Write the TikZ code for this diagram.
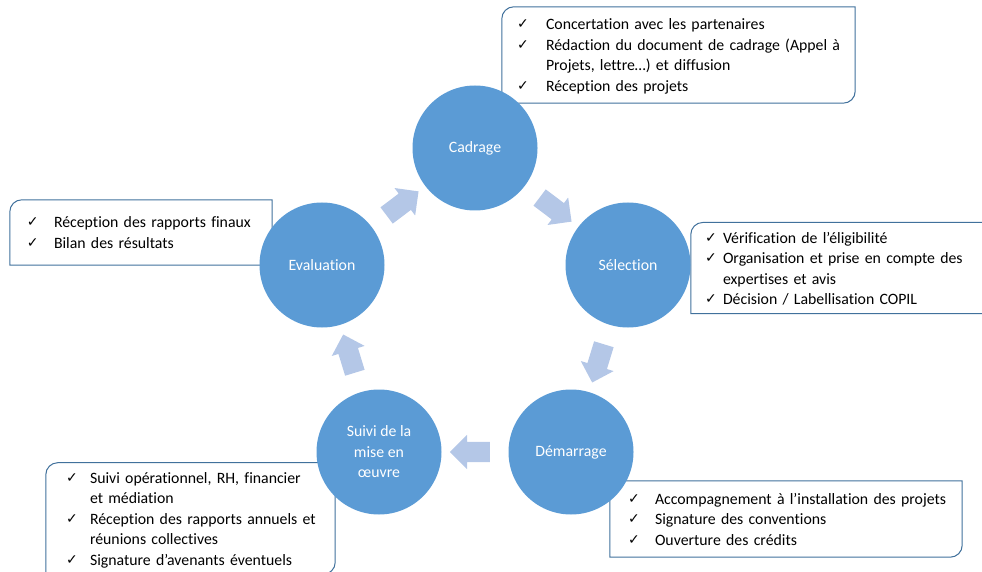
\documentclass[tikz,border=0pt]{standalone}
\usepackage{fontspec}
\setmainfont{Carlito}[Ligatures=NoCommon]
\newfontfamily\chkfont{DejaVu Sans}
\usetikzlibrary{shapes.arrows,calc}

\definecolor{phaseblue}{HTML}{5B9BD5}
\definecolor{flowblue}{HTML}{B4C7E7}
\definecolor{edgeblue}{HTML}{41719C}

% one ticked line of a list box
\newlength{\chkw}
\newcommand{\chk}[1]{\par\hangindent=\chkw\hangafter=1\noindent\makebox[\chkw][l]{\raisebox{1pt}{\chkfont\fontsize{14}{14}\selectfont ✓}}#1\par}

\tikzset{
  phase/.style={circle, fill=phaseblue, text=white, minimum size=125pt, inner sep=0pt, align=center},
  listbox/.style={fill=white, inner sep=0pt, align=left},
  boxline/.style={draw=edgeblue, line width=1pt},
  flow/.style={single arrow, fill=flowblue, minimum height=40pt, inner xsep=0pt, inner ysep=10pt, single arrow head extend=7pt}
}

\begin{document}
\begin{tikzpicture}[x=1pt,y=1pt,font=\fontsize{15.8}{20.5}\selectfont]
  \useasboundingbox (0,0) rectangle (982,571);

  % list boxes
  \node[listbox, minimum height=96pt, text width=353pt] (cadlist) at (678.5,516) {\setlength{\leftskip}{15pt}\setlength{\chkw}{29pt}%
    \chk{Concertation avec les partenaires}
    \chk{Rédaction du document de cadrage (Appel à\newline Projets, lettre…) et diffusion}
    \chk{Réception des projets}\kern7pt};
  \node[listbox, minimum height=65pt, text width=262pt] (evalist) at (141,338.5) {\setlength{\leftskip}{17pt}\setlength{\chkw}{27pt}%
    \chk{Réception des rapports finaux}
    \chk{Bilan des résultats}\kern9pt};
  \node[listbox, minimum height=90pt, text width=294pt] (sellist) at (838,303) {\setlength{\leftskip}{14pt}\setlength{\chkw}{18pt}%
    \chk{Vérification de l’éligibilité}
    \chk{Organisation et prise en compte des\newline expertises et avis}
    \chk{Décision / Labellisation COPIL}\kern8pt};
  \node[listbox, minimum height=107pt, text width=289pt] (suilist) at (190.5,52.5) {\setlength{\leftskip}{20pt}\setlength{\chkw}{24pt}%
    \chk{Suivi opérationnel, RH, financier\newline et médiation}
    \chk{Réception des rapports annuels et\newline réunions collectives}
    \chk{Signature d’avenants éventuels}\kern6pt};
  \node[listbox, minimum height=76pt, text width=352pt] (demlist) at (786,52) {\setlength{\leftskip}{18pt}\setlength{\chkw}{27pt}%
    \chk{Accompagnement à l’installation des projets}
    \chk{Signature des conventions}
    \chk{Ouverture des crédits}\kern9pt};

  % box outlines
  \draw[boxline] (cadlist.north east) -- ([xshift=12pt]cadlist.north west) arc[start angle=90,end angle=180,radius=12pt] -- (cadlist.south west) -- ([xshift=-12pt]cadlist.south east) arc[start angle=270,end angle=360,radius=12pt] -- cycle;
  \draw[boxline] (evalist.north east) -- ([xshift=12pt]evalist.north west) arc[start angle=90,end angle=180,radius=12pt] -- (evalist.south west) -- (evalist.south east) -- cycle;
  \draw[boxline] (sellist.north east) -- ([xshift=12pt]sellist.north west) arc[start angle=90,end angle=180,radius=12pt] -- (sellist.south west) -- (sellist.south east) -- cycle;
  \draw[boxline] (suilist.north east) -- ([xshift=12pt]suilist.north west) arc[start angle=90,end angle=180,radius=12pt] -- (suilist.south west) -- ([xshift=-12pt]suilist.south east) arc[start angle=270,end angle=360,radius=12pt] -- cycle;
  \draw[boxline] (demlist.north east) -- ([xshift=12pt]demlist.north west) arc[start angle=90,end angle=180,radius=12pt] -- (demlist.south west) -- ([xshift=-12pt]demlist.south east) arc[start angle=270,end angle=360,radius=12pt] -- cycle;

  % phases
  \node[phase] (cad) at (475,423) {Cadrage};
  \node[phase] (sel) at (628,306) {Sélection};
  \node[phase] (dem) at (571,119) {Démarrage};
  \node[phase] (sui) at (379,119) {Suivi de la\\mise en\\œuvre};
  \node[phase] (eva) at (322,306) {Evaluation};

  % arrows between phases
  \node[flow, rotate=-37] (f1) at ($(cad)!0.5!(sel)$) {};
  \node[flow, rotate=-107] (f2) at ($(sel)!0.5!(dem)$) {};
  \node[flow, rotate=180] (f3) at ($(dem)!0.5!(sui)$) {};
  \node[flow, rotate=107] (f4) at ($(sui)!0.5!(eva)$) {};
  \node[flow, rotate=37] (f5) at ($(eva)!0.5!(cad)$) {};
\end{tikzpicture}
\end{document}
